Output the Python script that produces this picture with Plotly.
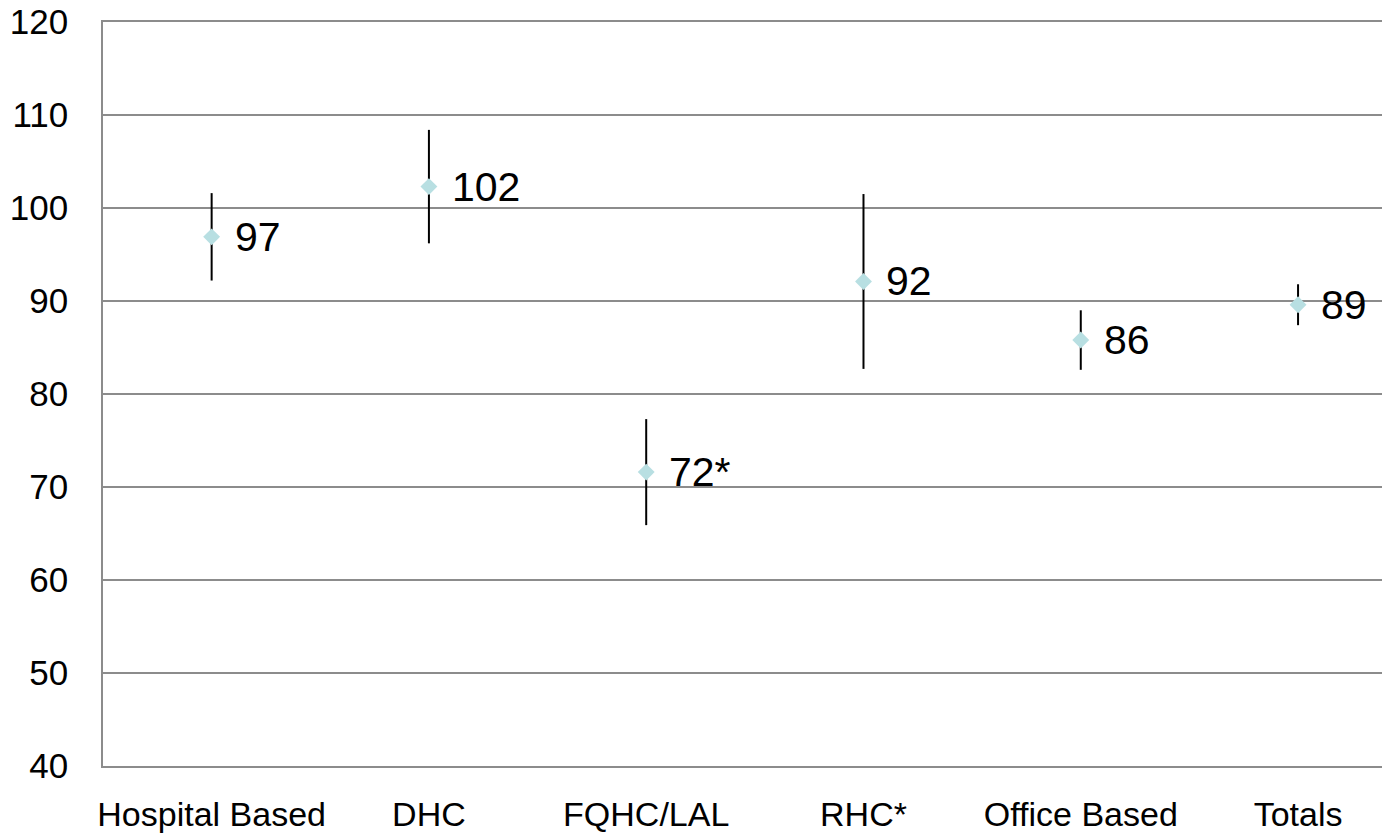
import plotly.graph_objects as go

categories = ["Hospital Based", "DHC", "FQHC/LAL", "RHC*", "Office Based", "Totals"]
means = [96.9, 102.3, 71.6, 92.1, 85.8, 89.6]
err = [4.7, 6.1, 5.7, 9.4, 3.2, 2.2]
labels = ["97", "102", "72*", "92", "86", "89"]
y_ticks = [40, 50, 60, 70, 80, 90, 100, 110, 120]

x_idx = list(range(len(categories)))

fig = go.Figure()
fig.add_trace(go.Scatter(
    x=x_idx, y=means, mode="markers",
    marker=dict(symbol="diamond", size=13, color="#b8dfe2", line=dict(width=0)),
    error_y=dict(type="data", array=err, visible=True, color="black", thickness=2, width=0),
    showlegend=False, hoverinfo="skip",
))

for xi, yv, lab in zip(x_idx, means, labels):
    fig.add_annotation(x=xi, y=yv, text=lab, showarrow=False, xanchor="left",
                       yanchor="middle", xshift=21,
                       font=dict(family="Liberation Sans, Arial, sans-serif", size=41, color="black"))

fig.update_layout(
    width=1390, height=834,
    margin=dict(l=95, r=0, t=14, b=76, autoexpand=False),
    paper_bgcolor="white", plot_bgcolor="white",
    font=dict(family="Liberation Sans, Arial, sans-serif", size=30, color="black"),
)
fig.update_xaxes(
    tickmode="array", tickvals=x_idx, ticktext=categories,
    range=[-0.5, 5.46], showgrid=False, zeroline=False,
    showline=True, mirror=True, linecolor="#8c8c8c", linewidth=1.5,
    ticks="", ticklabelstandoff=17, automargin=False,
    tickfont=dict(size=34),
)
fig.update_yaxes(
    range=[40, 120], tickmode="array", tickvals=y_ticks,
    showgrid=True, gridcolor="#8c8c8c", gridwidth=1.5,
    showline=True, linecolor="#8c8c8c", linewidth=1.5,
    zeroline=False, ticks="", ticklabelstandoff=26, automargin=False,
    ticklabeloverflow="allow",
    tickfont=dict(size=35),
)

fig.write_html("out.html")
